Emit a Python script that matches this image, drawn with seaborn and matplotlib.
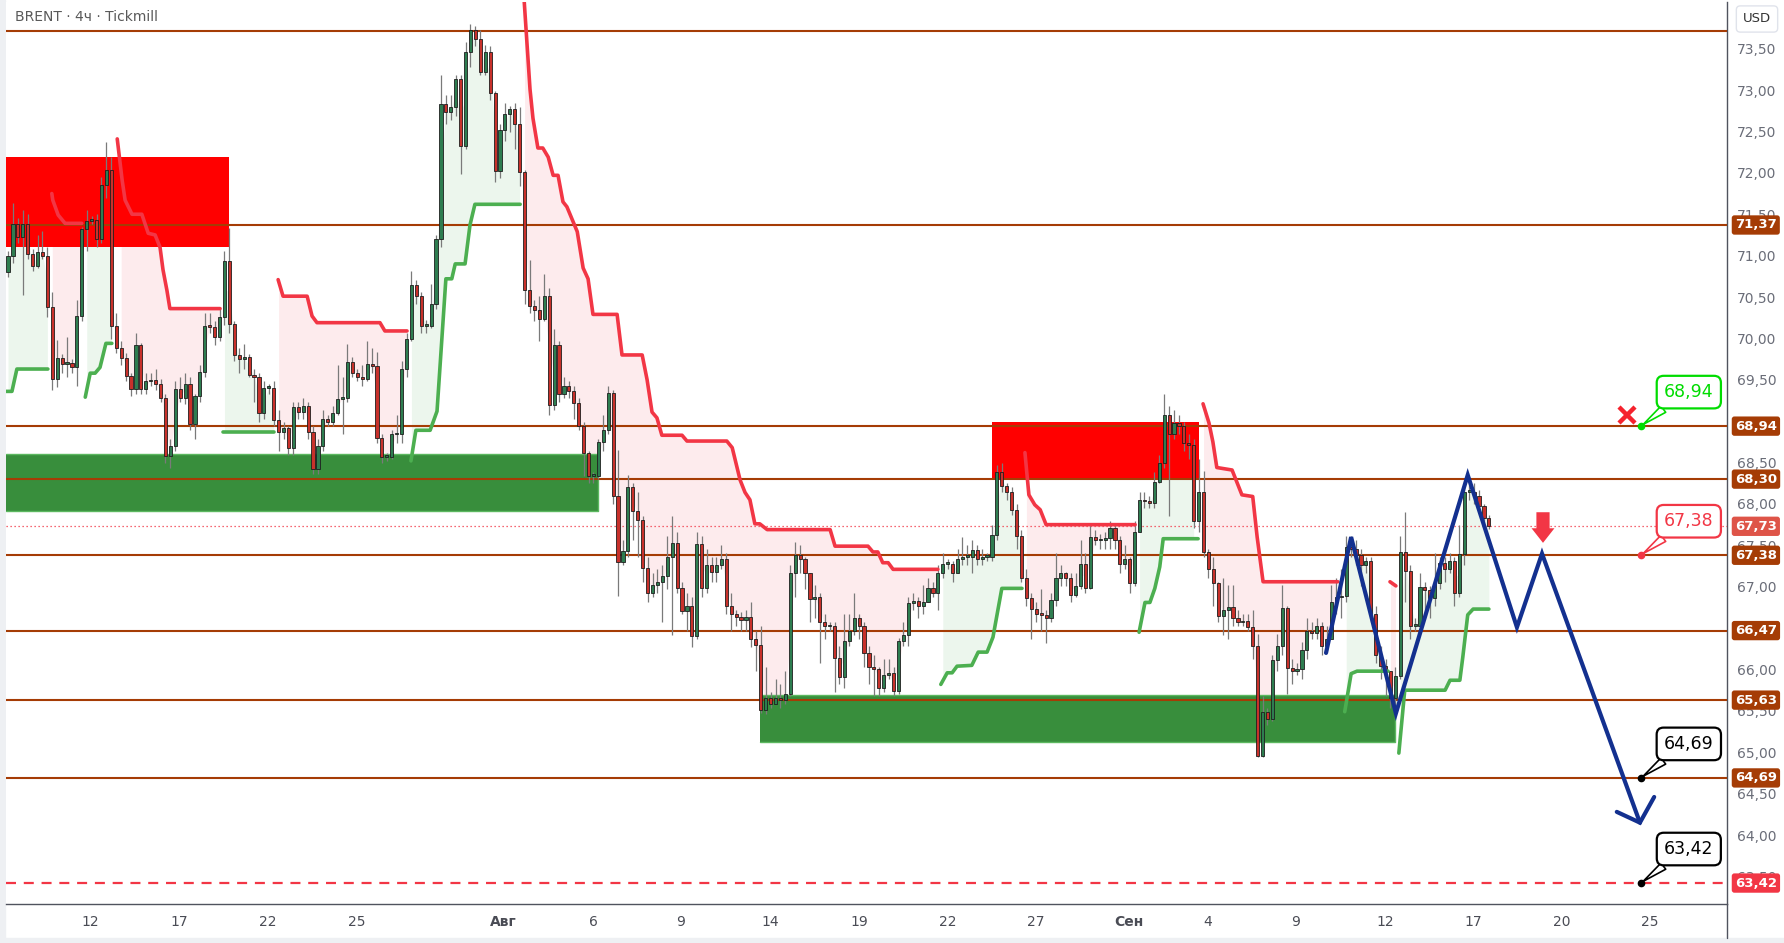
import numpy as np
import pandas as pd
import matplotlib
matplotlib.use("Agg")
import matplotlib.pyplot as plt
import matplotlib.transforms as mtransforms
from matplotlib.ticker import FuncFormatter, FixedLocator
from matplotlib.lines import Line2D
from matplotlib.patches import Rectangle
import seaborn as sns

sns.set_theme(style="white")
plt.rcParams["font.family"] = ["DejaVu Sans"]

# ---------------- data ----------------
first_open = 70.80
closes = [
    70.99, 71.38, 71.23, 71.38, 71.02, 70.87, 71.04, 71.00, 70.38, 69.51,
    69.76, 69.69, 69.70, 69.65, 70.27, 71.32, 71.42, 71.43, 71.20, 71.85,
    72.04, 70.15, 69.89, 69.76, 69.55, 69.39, 69.92, 69.39, 69.48, 69.50,
    69.45, 69.28, 68.58, 68.70, 69.39, 69.28, 69.45, 68.96, 69.30, 69.60,
    70.15, 70.14, 70.02, 70.26, 70.94, 70.17, 69.80, 69.75, 69.78, 69.56,
    69.53, 69.10, 69.40, 69.40, 69.01, 68.87, 68.92, 68.67, 69.17, 69.11,
    69.18, 68.87, 68.42, 68.70, 69.03, 68.99, 69.10, 69.27, 69.28, 69.71,
    69.58, 69.53, 69.51, 69.69, 69.67, 68.80, 68.57, 68.57, 68.84, 68.84,
    69.63, 69.99, 70.64, 70.51, 70.15, 70.15, 70.42, 71.20, 72.83, 72.74,
    72.79, 73.13, 72.33, 73.46, 73.73, 73.62, 73.22, 73.46, 72.96, 72.02,
    72.52, 72.71, 72.77, 72.59, 72.01, 70.58, 70.39, 70.34, 70.24, 70.51,
    69.19, 69.92, 69.33, 69.43, 69.36, 69.22, 68.94, 68.62, 68.34, 68.34,
    68.75, 68.89, 69.34, 68.10, 67.30, 67.43, 68.20, 67.91, 67.81, 67.23,
    66.93, 67.02, 67.06, 67.13, 67.36, 67.53, 66.99, 66.71, 66.77, 66.40,
    67.52, 66.99, 67.26, 67.18, 67.26, 67.33, 66.77, 66.67, 66.63, 66.60,
    66.63, 66.37, 66.29, 65.51, 65.65, 65.58, 65.66, 65.63, 65.71, 67.16,
    67.38, 67.34, 67.16, 66.85, 66.87, 66.57, 66.52, 66.52, 66.14, 65.91,
    66.35, 66.47, 66.62, 66.52, 66.20, 66.03, 66.01, 65.78, 65.93, 65.96,
    65.74, 66.34, 66.42, 66.80, 66.83, 66.77, 66.82, 66.99, 66.93, 67.16,
    67.28, 67.28, 67.16, 67.34, 67.36, 67.36, 67.44, 67.34, 67.36, 67.36,
    67.63, 68.38, 68.22, 68.14, 67.93, 67.61, 67.11, 66.86, 66.73, 66.67,
    66.66, 66.62, 66.84, 67.10, 67.16, 67.10, 66.90, 67.01, 67.27, 66.99,
    67.60, 67.56, 67.56, 67.59, 67.71, 67.56, 67.28, 67.34, 67.04, 67.66,
    68.05, 68.03, 68.01, 68.27, 68.50, 69.08, 68.84, 68.98, 68.94, 68.74,
    68.71, 67.80, 68.15, 67.42, 67.21, 67.04, 66.65, 66.72, 66.75, 66.62,
    66.57, 66.59, 66.51, 66.28, 64.95, 65.49, 65.40, 66.12, 66.28, 66.74,
    66.02, 65.98, 66.00, 66.23, 66.47, 66.44, 66.52, 66.28, 66.37, 66.82,
    66.87, 66.89, 67.48, 67.46, 67.38, 67.26, 67.31, 66.67, 66.18, 66.04,
    65.98, 65.66, 65.92, 67.42, 67.19, 66.53, 66.53, 67.00, 66.96, 66.86,
    67.04, 67.29, 67.21, 67.31, 66.92, 67.39, 68.15, 68.15, 68.10, 67.97,
    67.83, 67.73,
]
highs = [
    71.06, 71.63, 71.45, 71.55, 71.50, 71.08, 71.25, 71.30, 71.10, 70.56,
    69.98, 69.81, 70.02, 69.75, 70.46, 71.35, 71.55, 71.48, 71.50, 71.95,
    72.37, 72.19, 70.31, 69.97, 69.82, 69.58, 70.06, 69.94, 69.58, 69.58,
    69.63, 69.51, 69.33, 68.79, 69.48, 69.53, 69.58, 69.53, 69.33, 69.68,
    70.31, 70.31, 70.21, 70.36, 71.05, 71.33, 70.21, 69.88, 69.93, 69.81,
    69.63, 69.58, 69.48, 69.45, 69.48, 69.13, 68.99, 68.94, 69.23, 69.23,
    69.28, 69.23, 68.94, 68.79, 69.13, 69.08, 69.18, 69.68, 69.53, 69.93,
    69.78, 69.63, 69.68, 69.97, 69.88, 69.83, 68.84, 68.62, 68.89, 69.08,
    69.73, 70.07, 70.81, 70.71, 70.56, 70.22, 70.66, 71.25, 73.18, 72.94,
    72.94, 73.18, 73.18, 73.58, 73.80, 73.77, 73.72, 73.55, 73.53, 72.99,
    72.59, 72.84, 72.81, 72.84, 72.79, 72.04, 70.95, 70.46, 70.51, 70.78,
    70.61, 70.11, 69.97, 69.53, 69.48, 69.43, 69.28, 68.99, 68.64, 68.38,
    68.79, 69.08, 69.43, 69.38, 68.65, 67.56, 68.35, 68.25, 68.15, 67.86,
    67.36, 67.16, 67.21, 67.26, 67.61, 67.86, 67.66, 67.06, 66.92, 66.87,
    67.66, 67.61, 67.46, 67.36, 67.36, 67.51, 67.41, 66.92, 66.72, 66.69,
    66.72, 66.82, 66.47, 66.52, 66.03, 65.73, 65.88, 65.83, 65.98, 67.26,
    67.54, 67.51, 67.36, 67.16, 67.02, 66.92, 66.67, 66.57, 66.57, 66.28,
    66.67, 66.67, 66.92, 66.67, 66.57, 66.28, 66.18, 66.03, 66.13, 66.13,
    66.03, 66.38, 66.57, 66.87, 66.92, 66.87, 67.02, 67.11, 67.06, 67.26,
    67.41, 67.34, 67.31, 67.46, 67.60, 67.51, 67.56, 67.51, 67.46, 67.41,
    67.75, 68.47, 68.50, 68.25, 68.20, 68.00, 67.68, 67.21, 66.92, 66.82,
    66.97, 66.72, 66.92, 67.41, 67.26, 67.18, 67.16, 67.16, 67.56, 67.41,
    67.75, 67.68, 67.64, 67.66, 67.80, 67.75, 67.61, 67.51, 67.36, 67.80,
    68.15, 68.15, 68.10, 68.39, 68.59, 69.33, 69.18, 69.13, 69.08, 68.99,
    68.84, 68.79, 68.54, 68.40, 67.46, 67.36, 67.06, 67.11, 67.02, 67.02,
    66.72, 66.67, 66.67, 66.72, 66.43, 65.68, 65.53, 66.18, 66.43, 67.02,
    66.77, 66.13, 66.08, 66.33, 66.62, 66.57, 66.62, 66.57, 66.52, 67.02,
    67.11, 67.21, 67.61, 67.61, 67.56, 67.46, 67.36, 67.36, 66.77, 66.28,
    66.13, 65.98, 66.03, 67.61, 67.90, 67.26, 66.62, 67.16, 67.06, 67.01,
    67.41, 67.36, 67.36, 67.41, 67.36, 67.75, 68.20, 68.30, 68.25, 68.17,
    68.00, 67.87,
]
lows = [
    70.74, 70.91, 71.15, 70.52, 70.96, 70.81, 70.85, 70.96, 70.26, 69.38,
    69.41, 69.58, 69.53, 69.58, 69.43, 70.21, 71.05, 71.38, 71.10, 71.15,
    71.70, 69.99, 69.82, 69.68, 69.48, 69.31, 69.33, 69.33, 69.33, 69.43,
    69.38, 69.23, 68.49, 68.44, 68.64, 69.23, 69.21, 68.89, 68.79, 69.23,
    69.53, 70.06, 69.92, 69.97, 70.16, 70.06, 69.73, 69.58, 69.63, 69.53,
    69.23, 68.99, 69.03, 69.33, 68.94, 68.64, 68.79, 68.59, 68.59, 69.03,
    69.03, 68.79, 68.36, 68.36, 68.64, 68.94, 68.94, 69.08, 68.84, 69.23,
    69.53, 69.48, 69.43, 69.48, 69.58, 68.74, 68.49, 68.52, 68.54, 68.74,
    68.74, 69.53, 69.97, 70.41, 70.07, 70.07, 70.12, 70.36, 71.10, 72.59,
    72.64, 72.69, 71.99, 72.29, 73.28, 73.53, 73.18, 73.18, 72.88, 71.89,
    71.94, 72.39, 72.49, 72.29, 71.84, 70.41, 70.31, 70.21, 69.97, 70.21,
    69.08, 69.13, 69.23, 69.28, 69.28, 69.03, 68.89, 68.34, 68.25, 68.25,
    68.30, 68.64, 68.84, 68.00, 66.89, 67.26, 67.36, 67.56, 67.36, 67.06,
    66.82, 66.87, 66.92, 66.57, 66.97, 66.42, 66.92, 66.67, 66.47, 66.27,
    66.37, 66.87, 66.92, 67.06, 67.06, 67.21, 66.67, 66.47, 66.52, 66.47,
    66.47, 66.27, 65.98, 65.48, 65.46, 65.53, 65.58, 65.53, 65.58, 65.68,
    66.87, 67.16, 66.97, 66.57, 66.62, 66.08, 66.37, 66.47, 65.73, 65.83,
    65.78, 66.28, 66.42, 66.37, 66.03, 65.83, 65.68, 65.68, 65.73, 65.88,
    65.68, 65.70, 66.28, 66.28, 66.72, 66.62, 66.67, 66.82, 66.87, 66.72,
    67.11, 67.21, 67.06, 67.16, 67.26, 67.26, 67.16, 67.26, 67.26, 67.31,
    67.31, 67.56, 68.15, 68.05, 67.87, 67.46, 67.06, 66.77, 66.37, 66.57,
    66.47, 66.32, 66.57, 66.77, 67.01, 67.01, 66.82, 66.87, 66.97, 66.92,
    66.97, 67.51, 67.46, 67.46, 67.46, 67.46, 67.16, 67.21, 66.92, 67.01,
    67.66, 67.95, 67.95, 67.95, 68.25, 68.44, 67.85, 68.79, 68.84, 68.64,
    68.54, 67.71, 67.66, 67.36, 67.11, 66.77, 66.57, 66.42, 66.37, 66.52,
    66.52, 66.52, 66.47, 66.13, 64.94, 64.94, 65.33, 65.38, 65.98, 66.18,
    65.70, 65.83, 65.93, 65.88, 66.13, 66.37, 66.37, 66.18, 66.23, 66.37,
    66.67, 66.62, 66.82, 67.36, 67.26, 67.01, 67.16, 66.57, 66.08, 65.88,
    65.68, 65.53, 65.53, 65.88, 66.82, 66.37, 66.47, 66.57, 66.67, 66.62,
    66.77, 66.97, 67.06, 67.16, 66.77, 66.87, 67.26, 68.05, 68.00, 67.90,
    67.75, 67.70,
]

levels = [73.71, 71.37, 68.94, 68.30, 67.38, 66.47, 65.63, 64.69]
badge_levels = [71.37, 68.94, 68.30, 67.38, 66.47, 65.63, 64.69]
target_level = 63.42
last_price = 67.73
scale_ticks = [63.5, 64.0, 64.5, 65.0, 65.5, 66.0, 66.5, 67.0, 67.5, 68.0,
               68.5, 69.0, 69.5, 70.0, 70.5, 71.0, 71.5, 72.0, 72.5, 73.0, 73.5]

zone_x0 = [-0.5, -0.5, 200.0, 152.8]
zone_x1 = [44.9, 119.9, 242.1, 281.9]
zone_lo = [71.11, 67.91, 68.30, 65.12]
zone_hi = [72.19, 68.60, 68.99, 65.69]
zone_colors = ["#ff0000", "#388e3c", "#ff0000", "#388e3c"]

# supertrend pieces: (bar positions, price)
st_up = [
    ([-0.4, 0.8, 1.8, 8.1], [69.36, 69.36, 69.63, 69.63]),
    ([15.7, 16.7, 17.7, 18.7, 19.9, 21.1], [69.29, 69.58, 69.58, 69.65, 69.94, 69.94]),
    ([43.7, 54.1], [68.87, 68.87]),
    ([81.9, 82.9, 85.8, 87.2, 89.0, 90.2, 90.9, 92.9, 93.9, 94.9, 104.1],
     [68.52, 68.89, 68.89, 69.12, 70.72, 70.72, 70.90, 70.90, 71.37, 71.62, 71.62]),
    ([189.6, 190.9, 191.9, 192.9, 195.9, 197.2, 199.0, 200.2, 202.0, 206.1],
     [65.82, 65.96, 65.96, 66.04, 66.05, 66.21, 66.21, 66.39, 66.98, 66.98]),
    ([229.9, 231.1, 232.1, 233.1, 234.1, 234.8, 241.9],
     [66.45, 66.81, 66.81, 66.98, 67.24, 67.58, 67.58]),
    ([271.7, 273.0, 274.2, 280.5], [65.49, 65.95, 65.98, 65.98]),
    ([282.7, 283.9, 292.1, 293.1, 295.1, 295.7, 296.7, 297.8, 301.0],
     [64.99, 65.75, 65.75, 65.87, 65.87, 66.15, 66.66, 66.73, 66.73]),
]
st_down = [
    ([8.9, 9.1, 10.2, 11.6, 15.0], [71.75, 71.67, 71.49, 71.39, 71.39]),
    ([22.2, 23.2, 23.8, 25.2, 27.2, 28.5, 29.9, 30.9, 31.5, 32.3, 32.9, 43.1],
     [72.41, 71.91, 71.67, 71.50, 71.50, 71.27, 71.25, 71.10, 70.83, 70.58, 70.36, 70.36]),
    ([54.9, 55.9, 60.8, 61.8, 62.8, 75.6, 76.6, 81.1],
     [70.71, 70.51, 70.51, 70.27, 70.19, 70.19, 70.09, 70.09]),
    ([104.9, 106.1, 106.7, 107.7, 108.7, 109.8, 110.8, 111.8, 112.8, 113.6,
      115.7, 116.9, 117.9, 118.9, 123.8, 124.8, 128.9, 129.9, 130.9, 131.9,
      132.9, 137.0, 138.0, 146.1, 147.2, 148.8, 149.8, 150.8, 151.8, 152.8,
      154.3, 167.1, 168.1, 174.8, 175.8, 176.8, 177.8, 178.9, 179.9, 189.0],
     [74.09, 73.01, 72.66, 72.30, 72.30, 72.19, 71.97, 71.97, 71.65, 71.59,
      71.29, 70.85, 70.72, 70.29, 70.29, 69.80, 69.80, 69.50, 69.11, 69.04,
      68.83, 68.83, 68.76, 68.76, 68.68, 68.29, 68.14, 68.05, 67.76, 67.76,
      67.69, 67.69, 67.49, 67.49, 67.42, 67.42, 67.29, 67.29, 67.21, 67.21]),
    ([206.7, 207.5, 208.7, 209.8, 211.0, 229.1], [68.62, 68.11, 67.99, 67.93, 67.75, 67.75]),
    ([242.9, 244.1, 244.9, 245.7, 248.8, 250.8, 253.0, 253.9, 255.1, 270.3],
     [69.21, 68.98, 68.75, 68.44, 68.41, 68.11, 68.09, 67.60, 67.06, 67.06]),
    ([280.9, 282.1], [67.06, 67.01]),
]

# hand-drawn forecast
forecast_x = [267.9, 273.0, 282.1, 296.7, 306.7, 311.8, 331.7]
forecast_y = [66.20, 67.60, 65.47, 68.35, 66.51, 67.40, 64.15]
head_x = [327.0, 331.7, 334.6]
head_y = [64.28, 64.15, 64.46]

callout_bar = 331.9
callout_values = [68.94, 67.38, 64.69, 63.42]
callout_colors = ["#00dc00", "#f23645", "#000000", "#000000"]
cross_bar, cross_price = 329.1, 69.07
sell_bar, sell_from, sell_to = 312.0, 67.90, 67.53

xtick_pos = [16.8, 34.9, 52.8, 70.8, 100.7, 118.9, 136.8, 154.9, 173.0,
             191.0, 208.9, 227.9, 243.8, 261.8, 280.0, 297.9, 315.9, 333.7]
xtick_labels = ["12", "17", "22", "25", "Авг", "6", "9", "14", "19",
                "22", "27", "Сен", "4", "9", "12", "17", "20", "25"]

# ---------------- figure ----------------
fig = plt.figure(figsize=(17.84, 9.43), dpi=100)
fig.patch.set_facecolor("white")
ax = fig.add_axes([6 / 1784, 39 / 943, 1721 / 1784, 902 / 943])
ax.set_facecolor("white")

df = pd.DataFrame({"close": closes, "high": highs, "low": lows})
df["open"] = [first_open] + closes[:-1]
df["bar"] = np.arange(len(df))
df["high"] = df[["high", "open", "close"]].max(axis=1)
df["low"] = df[["low", "open", "close"]].min(axis=1)
mid = ((df["open"] + df["close"]) / 2).to_numpy()

# supertrend fills
for segs, fc in [(st_up, "#ecf6ed"), (st_down, "#fdebed")]:
    for xs, ys in segs:
        bars = np.arange(int(np.ceil(max(xs[0], 0))), int(np.floor(xs[-1])) + 1)
        bars = bars[bars < len(df)]
        if len(bars) == 0:
            continue
        if len(bars) == 1:
            bars = np.array([bars[0] - 0.5, bars[0] + 0.5])
            m = np.repeat(mid[int(bars[0] + 0.5)], 2)
        else:
            m = mid[bars]
        ax.fill_between(bars, np.interp(bars, xs, ys), m, color=fc, lw=0, zorder=1)

# zones
for x0, x1, lo, hi, c in zip(zone_x0, zone_x1, zone_lo, zone_hi, zone_colors):
    ax.fill_between([x0, x1], [lo, lo], [hi, hi], color=c, lw=0, zorder=2)
    if c == "#388e3c":
        ax.plot([x0, x1, x1, x0], [hi, hi, lo, lo], color="#5cb860", lw=1.0, zorder=2)

# level lines
for lv in levels:
    ax.axhline(lv, color="#a53c05", lw=1.5, zorder=3)
ax.axhline(target_level, color="#f23645", lw=1.6, ls=(0, (4.5, 3.5)), zorder=3)
ax.axhline(last_price, color="#f23645", lw=0.9, ls=(0, (1, 2.2)), zorder=3)

# candles
up = df["close"] >= df["open"]
ax.vlines(df["bar"], df["low"], df["high"], color="#7a7a7a", lw=0.9, zorder=4)
body = (df["close"] - df["open"]).abs().clip(lower=0.02)
bottom = df[["open", "close"]].min(axis=1)
ax.bar(df["bar"], body, bottom=bottom, width=0.64,
       color=np.where(up, "#2e7d50", "#c8312b"), edgecolor="#1e1e1e",
       linewidth=0.6, zorder=5)

# supertrend lines
for xs, ys in st_up:
    sns.lineplot(x=xs, y=ys, ax=ax, color="#4caf50", lw=2.6, sort=False,
                 estimator=None, legend=False, zorder=6)
for xs, ys in st_down:
    sns.lineplot(x=xs, y=ys, ax=ax, color="#f23645", lw=2.6, sort=False,
                 estimator=None, legend=False, zorder=6)

# forecast zigzag
sns.lineplot(x=forecast_x, y=forecast_y, ax=ax, color="#13308f", lw=3.0, sort=False,
             estimator=None, legend=False, zorder=11)
ax.plot(head_x, head_y, color="#13308f", lw=3.0, zorder=11)
for ln in ax.lines[-2:]:
    ln.set_solid_joinstyle("miter")

# sell arrow and cross
ax.annotate("", xy=(sell_bar, sell_to), xytext=(sell_bar, sell_from),
            arrowprops=dict(arrowstyle="simple,head_length=1.05,head_width=1.65,tail_width=0.95",
                            fc="#f23645", ec="none", shrinkA=0, shrinkB=0, mutation_scale=10),
            zorder=12)
ax.plot(cross_bar, cross_price, marker="x", ms=11, mew=3.2, color="#f5222d", zorder=12)

# callouts
for val, col in zip(callout_values, callout_colors):
    ax.plot(callout_bar, val, "o", ms=4.5, color=col, zorder=13)
    ax.annotate(f"{val:.2f}".replace(".", ","), xy=(callout_bar, val),
                xytext=(34.5, 24.5), textcoords="offset points",
                ha="center", va="center", fontsize=12.5, color=col, zorder=13,
                bbox=dict(boxstyle="round,pad=0.42,rounding_size=0.4", fc="white", ec=col, lw=1.6),
                arrowprops=dict(arrowstyle="wedge,tail_width=0.45,shrink_factor=0.5",
                                fc="white", ec=col, lw=1.2, relpos=(0.25, 0.1),
                                shrinkA=0, shrinkB=2))

# axes limits / ticks
ax.set_xlim(-0.41, 349.4)
ax.set_ylim(63.167, 74.064)
ax.yaxis.tick_right()
ax.yaxis.set_major_locator(FixedLocator(scale_ticks))
ax.yaxis.set_major_formatter(FuncFormatter(lambda v, _: f"{v:.2f}".replace(".", ",")))
ax.tick_params(axis="y", length=0, pad=7, labelsize=10, colors="#6a6d78")
ax.set_xticks(xtick_pos)
ax.set_xticklabels(xtick_labels)
ax.tick_params(axis="x", length=0, pad=8, labelsize=10, colors="#4a4c55")
for lbl in ax.get_xticklabels():
    if lbl.get_text() in ("Авг", "Сен"):
        lbl.set_fontweight("bold")
ax.grid(False)
for s in ["top", "left"]:
    ax.spines[s].set_visible(False)
for s in ["bottom", "right"]:
    ax.spines[s].set_color("#50535e")
    ax.spines[s].set_linewidth(1.0)

# price badges on the right scale
trans = mtransforms.blended_transform_factory(ax.transAxes, ax.transData)
badges = [(lv, "#a53c05") for lv in badge_levels] + [(last_price, "#de5448"), (target_level, "#f23645")]
for lv, c in badges:
    ax.text(1.0046, lv, f"{lv:.2f}".replace(".", ","), transform=trans, ha="left",
            va="center", fontsize=9.5, fontweight="bold", color="white", clip_on=False,
            zorder=20,
            bbox=dict(boxstyle="round,pad=0.24,rounding_size=0.2", fc=c, ec="none"))

# frame bits, title, currency box
fig.patches.append(Rectangle((0, 0), 5 / 1784, 1, transform=fig.transFigure,
                             color="#eef0f3", zorder=-1))
fig.patches.append(Rectangle((0, 0), 1, 5 / 943, transform=fig.transFigure,
                             color="#eef0f3", zorder=-1))
fig.add_artist(Line2D([1727 / 1784, 1727 / 1784], [5 / 943, 39 / 943],
                      color="#50535e", lw=1.0))
fig.text(15 / 1784, 1 - 17 / 943, "BRENT · 4ч · Tickmill", fontsize=10,
         color="#5a5a5a", ha="left", va="center")
fig.text(1757 / 1784, 1 - 19 / 943, "USD", fontsize=9.5, color="#333333",
         ha="center", va="center", zorder=30,
         bbox=dict(boxstyle="round,pad=0.5,rounding_size=0.3", fc="white", ec="#e0e3eb"))

fig.savefig("out.png", dpi=100)
